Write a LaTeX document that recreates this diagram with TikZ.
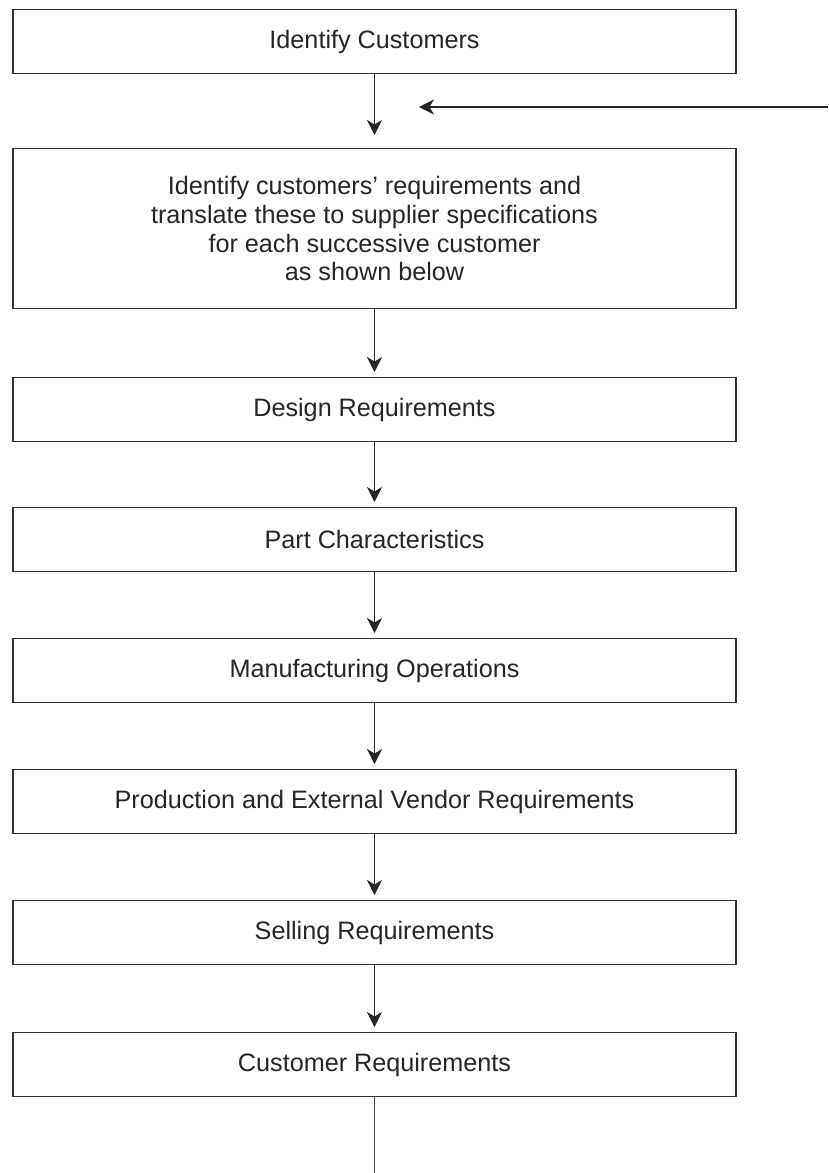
\documentclass[tikz,border=0pt]{standalone}
\usepackage{fontspec}
\setmainfont{Liberation Sans}
\usetikzlibrary{arrows.meta}
\begin{document}
\begin{tikzpicture}[x=1pt,y=-1pt,
  stage/.style={draw=black!80, line width=1.3pt, fill=white,
    minimum width=723pt, minimum height=64pt, inner sep=0pt,
    anchor=north, text=black!85, align=center,
    font=\fontsize{25.2}{28.7}\selectfont},
  flow/.style={draw=black!85, line width=1.1pt,
    -{Stealth[length=15pt,width=15pt,inset=4.5pt]}, shorten >=5pt},
  link/.style={draw=black!70, line width=1.1pt}]
\useasboundingbox (0,0) rectangle (828,1173);

% process stages, top to bottom
\node[stage] (cust)  at (374.5,9)    {Identify Customers};
\node[stage, minimum height=160pt] (req) at (374.5,148)
  {Identify customers’ requirements and\\
   translate these to supplier specifications\\
   for each successive customer\\
   as shown below};
\node[stage] (design) at (374.5,377)  {Design Requirements};
\node[stage] (part)   at (374.5,507)  {Part Characteristics};
\node[stage] (manuf)  at (374.5,638)  {Manufacturing Operations};
\node[stage] (prod)   at (374.5,769)  {Production and External Vendor Requirements};
\node[stage] (sell)   at (374.5,900)  {Selling Requirements};
\node[stage] (creq)   at (374.5,1032) {Customer Requirements};

% feedback entering from the right
\coordinate (fbin)  at (828,107);
\coordinate (fbend) at (419,107);
\coordinate (tail)  at (374.5,1173);

% connectors
\draw[flow, shorten >=13pt] (cust) -- (req);
\draw[flow, line width=1.4pt, shorten >=0pt] (fbin) -- (fbend);
\draw[flow] (req) -- (design);
\draw[flow] (design) -- (part);
\draw[flow] (part) -- (manuf);
\draw[flow] (manuf) -- (prod);
\draw[flow] (prod) -- (sell);
\draw[flow] (sell) -- (creq);
\draw[link] (creq) -- (tail);
\end{tikzpicture}
\end{document}
